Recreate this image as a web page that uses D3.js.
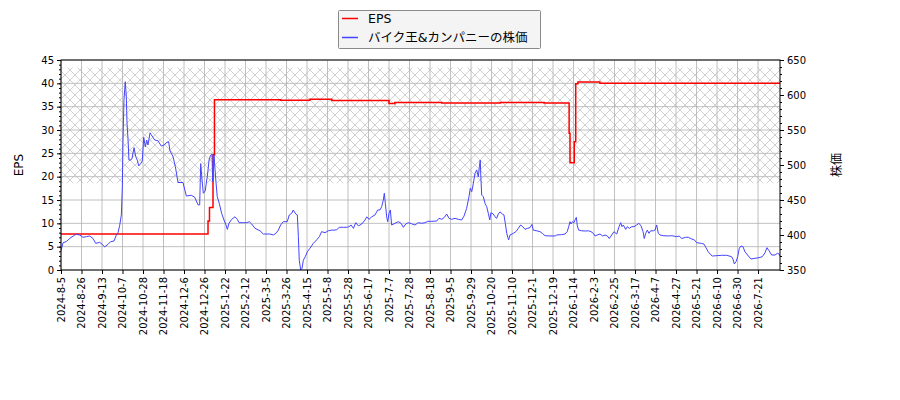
<!DOCTYPE html>
<html>
<head>
<meta charset="utf-8">
<script src="https://cdn.jsdelivr.net/npm/d3@7"></script>
<style>
	body { margin: 0; background: #fff; }
	svg text { font-family: "DejaVu Sans", "Noto Sans CJK JP", sans-serif; fill: #000; }
	.gridline { stroke: #b0b0b0; stroke-width: 0.8; }
	.axis path, .axis line { stroke: #000; }
</style>
</head>
<body>
<svg id="chart" width="900" height="400"></svg>
<script>
// x axis: trading days since 2024-8-5, one label every 14 days
var tickLabels = [
	"2024-8-5", "2024-8-26", "2024-9-13", "2024-10-7", "2024-10-28", "2024-11-18",
	"2024-12-6", "2024-12-26", "2025-1-22", "2025-2-12", "2025-3-5", "2025-3-26",
	"2025-4-15", "2025-5-8", "2025-5-28", "2025-6-17", "2025-7-7", "2025-7-28",
	"2025-8-18", "2025-9-5", "2025-9-29", "2025-10-20", "2025-11-10", "2025-12-1",
	"2025-12-19", "2026-1-14", "2026-2-3", "2026-2-25", "2026-3-17", "2026-4-7",
	"2026-4-27", "2026-5-21", "2026-6-10", "2026-6-30", "2026-7-21"
];
var tickStep = 14;
var dayCount = 491;

var epsTicks = [0, 5, 10, 15, 20, 25, 30, 35, 40, 45];
var priceTicks = [350, 400, 450, 500, 550, 600, 650];

// shaded band, in EPS units
var hatchBand = [18.6, 43.4];

// [day, EPS]
var eps = [
	[0, 7.7], [100.4, 10.5], [101.4, 13.4], [103.8, 24.7], [104.8, 36.5],
	[150, 36.4], [170, 36.6], [185, 36.3], [224, 35.7], [228, 35.9],
	[260, 35.8], [300, 35.9], [330, 35.8], [347, 29.3], [347.6, 23.0],
	[350.5, 27.5], [351.5, 39.9], [353, 40.3], [368, 40.0], [491, 40.0]
];

// [day, price]
var price = [
	[0,377.6],[1.4,389],[3.6,390.5],[5.9,395],[9.4,400],[10.4,401],[12.8,400],[15.0,396.7],
	[17.3,397.6],[19.6,398.6],[21.9,395],[23.7,388],[26.4,389.5],[28.0,387],[29.8,383],
	[32.1,386.7],[33.9,390.5],[36.2,391.4],[37.8,400],[38.9,403],[40.1,414],[41.2,428.6],
	[41.9,469],[42.3,531],[43.0,593],[43.9,619],[44.6,597.6],[45.1,559.5],[45.8,535.7],
	[46.4,507],[47.6,507],[48.5,509.5],[49.9,524.8],[51.0,512],[52.1,507],[53.1,498.6],
	[54.4,502],[55.5,505.7],[56.5,539.5],[57.6,526],[58.5,535.7],[59.4,528.6],[60.8,546],
	[61.7,543],[64.0,535.7],[66.2,534.7],[68.5,527],[70.3,528.6],[71.9,532],[73.5,533.3],
	[74.4,520.5],[76.5,512],[78.1,497.6],[79.9,475],[83.3,475],[85.6,455.7],[89.0,456.7],
	[91.3,454],[93.6,443],[94.7,443],[95.4,502],[96.3,478.6],[97.2,459.6],[98.5,463],
	[99.5,478.6],[99.9,483],[101.1,507],[102.2,514],[103.1,515.7],[103.6,476],[104.5,514],
	[105.2,493],[105.9,474],[106.7,454.7],[108.1,445],[109.7,431],[111.3,421.4],[112.7,414.3],
	[113.6,408],[114.7,416.7],[116.6,422.4],[118.8,426],[120.4,422.4],[121.6,417.6],
	[124.5,417.6],[126.8,417.6],[128.6,419],[130.2,415.7],[132.5,409.5],[135.9,406],
	[138.2,401.4],[142.7,401.4],[145.0,400],[146.8,402.4],[148.4,407],[150.0,414.3],
	[151.8,419],[154.5,419],[155.9,428.6],[157.5,431],[158.6,435.7],[160.3,430],[161.4,428.6],
	[162.1,397.6],[162.7,364],[163.7,350],[164.6,352.4],[165.5,364],[166.8,369],[168.2,376],
	[170.0,381],[172.3,388],[174.6,393],[176.4,397.6],[178.0,404.8],[180.3,403.3],[182.5,406],
	[184.9,407],[187.1,407],[188.3,407.6],[190.1,411],[192.8,411],[195.1,411],[196.2,411.6],
	[197.4,412.9],[198.1,414.3],[199.7,409.5],[201.3,417.6],[203.1,413],[205.4,415.7],
	[207.6,421.4],[208.8,426],[210.3,422.4],[212.2,426],[214.4,428.6],[216.3,435.7],
	[217.8,435.7],[219.0,440.5],[220.1,450],[220.8,459.6],[221.5,445],[222.4,426],[223.1,419],
	[224.0,431],[224.9,435.7],[225.8,414.3],[228.1,416.7],[230.3,419],[232.2,416.7],[233.8,411],
	[235.4,415.7],[237.2,417.6],[239.5,416],[241.7,414.3],[244.0,417.6],[246.3,416.7],
	[248.6,417.6],[250.4,419.5],[253.2,419.5],[256.6,420],[258.1,423.8],[260.0,422.4],
	[261.8,425.2],[263.4,430],[265.0,423.8],[266.8,422.4],[269.1,423.8],[271.3,422.4],
	[273.6,421.4],[275.2,427],[277.0,438],[278.6,454.7],[279.5,466.7],[280.5,461.9],
	[281.6,474],[282.7,488],[283.9,493],[285.0,483],[285.7,497.6],[286.3,507],[286.8,478.6],
	[287.3,457],[288.4,454.7],[289.6,445],[290.7,440.5],[291.8,431],[292.8,421.4],[293.6,431.9],
	[295.2,430],[296.4,426],[297.5,423.8],[298.6,430],[299.8,433],[301.4,430],[302.5,428.6],
	[303.4,416.7],[304.4,402.4],[305.1,396.7],[305.7,393],[306.6,400],[308.9,402.4],
	[310.7,404.8],[312.3,409.5],[313.9,414.3],[315.3,411.9],[316.9,408],[318.4,409.5],
	[320.3,410.5],[321.6,415.2],[322.5,407],[324.9,406],[327.1,404.8],[328.7,402.4],[330.5,399],
	[333.9,398.6],[337.4,398.6],[338.5,400],[341.9,400.5],[344.2,401.4],[345.7,404.8],
	[346.7,411.9],[347.6,419],[348.3,415.7],[349.2,419],[350.3,417.6],[351.0,421.4],
	[351.9,425.2],[352.6,413],[353.5,407],[355.6,406],[357.8,405.7],[360.1,406],[361.9,404.8],
	[363.5,402.4],[364.7,398.6],[366.2,400],[368.1,401.4],[369.9,398.6],[371.5,400],
	[373.1,398.6],[374.4,395],[376.1,400],[377.6,404.8],[379.5,401.4],[381.1,411.9],
	[382.2,417.6],[383.1,411.9],[384.0,414.3],[385.6,408],[386.7,411.9],[388.1,409.5],
	[389.7,411.9],[391.3,411.9],[393.1,414.3],[394.7,416.7],[396.1,413],[397.5,404.8],
	[398.3,395],[399.3,402.4],[400.4,407],[401.5,402.4],[402.7,406],[404.5,406],[405.6,407],
	[406.8,414.3],[407.9,402.4],[409.1,400],[411.3,399],[414.7,398.6],[417.1,399],[420.5,397.6],
	[422.1,398.6],[423.9,395],[426.6,396.7],[428.4,396.7],[430.7,394.3],[432.5,393],[434.1,389],
	[437.5,388],[439.1,387],[440.3,382.4],[442.0,376],[443.9,371.4],[444.8,370],[447.8,370.5],
	[451.2,371],[454.6,371],[458.0,369],[459.1,364.3],[459.8,358.6],[461.0,361.9],[462.1,369],
	[463.2,381],[464.4,384.3],[465.7,383.3],[467.1,376],[469.4,370],[471.2,365.7],[473.9,366.7],
	[476.7,367.6],[478.9,369],[480.8,374.8],[482.1,381.9],[483.5,377.6],[485.3,371.4],
	[487.6,371.4],[489.2,373.8],[490.3,373],[491,370]
];

var legendItems = [
	{ label: "EPS", color: "#ff0000" },
	{ label: "バイク王&カンパニーの株価", color: "#4444ff" }
];

var chart = {
	init : function ()
	{
		this.svg = d3.select("svg#chart");
		this.box = { left: 61, right: 780, top: 60, bottom: 270 };

		this.x = d3.scaleLinear()
		.domain([0, dayCount])
		.range([this.box.left, this.box.right]);

		this.yEps = d3.scaleLinear()
		.domain([0, 45])
		.range([this.box.bottom, this.box.top]);

		this.yPrice = d3.scaleLinear()
		.domain([350, 650])
		.range([this.box.bottom, this.box.top]);

		this.renderHatch();
		this.renderGrid();
		this.renderLines();
		this.renderAxes();
		this.renderLegend();
	},

	renderHatch : function ()
	{
		var defs = this.svg.append("defs");
		var pat = defs.append("pattern")
		.attr("id", "hatch")
		.attr("patternUnits", "userSpaceOnUse")
		.attr("width", 10)
		.attr("height", 10);

		// one X per tile
		pat.append("path")
		.attr("d", "M0,0L10,10M10,0L0,10")
		.attr("stroke", "#bdbdbd")
		.attr("stroke-width", 0.7)
		.attr("fill", "none");

		defs.append("clipPath")
		.attr("id", "plotClip")
		.append("rect")
		.attr("x", this.box.left)
		.attr("y", this.box.top)
		.attr("width", this.box.right - this.box.left)
		.attr("height", this.box.bottom - this.box.top);

		this.svg.append("rect")
		.attr("x", this.box.left)
		.attr("width", this.box.right - this.box.left)
		.attr("y", this.yEps(hatchBand[1]))
		.attr("height", this.yEps(hatchBand[0]) - this.yEps(hatchBand[1]))
		.attr("fill", "url(#hatch)");
	},

	renderGrid : function ()
	{
		var grid = this.svg.append("g").classed("grid", true);
		var self = this;

		grid.selectAll("line.v")
		.data(tickLabels)
		.enter().append("line")
		.attr("class", "gridline v")
		.attr("x1", function (d, i) { return self.x(i*tickStep); })
		.attr("x2", function (d, i) { return self.x(i*tickStep); })
		.attr("y1", this.box.top)
		.attr("y2", this.box.bottom);

		grid.selectAll("line.h")
		.data(epsTicks)
		.enter().append("line")
		.attr("class", "gridline h")
		.attr("x1", this.box.left)
		.attr("x2", this.box.right)
		.attr("y1", function (d) { return self.yEps(d); })
		.attr("y2", function (d) { return self.yEps(d); });
	},

	renderLines : function ()
	{
		var self = this;
		var lines = this.svg.append("g").attr("clip-path", "url(#plotClip)");

		var epsLine = d3.line()
		.x(function (d) { return self.x(d[0]); })
		.y(function (d) { return self.yEps(d[1]); })
		.curve(d3.curveStepAfter);

		var priceLine = d3.line()
		.x(function (d) { return self.x(d[0]); })
		.y(function (d) { return self.yPrice(d[1]); });

		lines.append("path")
		.datum(eps)
		.attr("d", epsLine)
		.attr("fill", "none")
		.attr("stroke", legendItems[0].color)
		.attr("stroke-width", 1.5);

		lines.append("path")
		.datum(price)
		.attr("d", priceLine)
		.attr("fill", "none")
		.attr("stroke", legendItems[1].color)
		.attr("stroke-width", 1);
	},

	renderAxes : function ()
	{
		var b = this.box;

		// frame
		this.svg.append("rect")
		.attr("x", b.left)
		.attr("y", b.top)
		.attr("width", b.right - b.left)
		.attr("height", b.bottom - b.top)
		.attr("fill", "none")
		.attr("stroke", "#000")
		.attr("stroke-width", 1);

		// left, minor then major
		this.svg.append("g")
		.attr("class", "axis")
		.attr("transform", "translate("+b.left+",0)")
		.call(d3.axisLeft(this.yEps).tickValues(d3.range(0, 46, 1)).tickSize(2).tickFormat(""))
		.call(function (g) { g.select(".domain").remove(); });

		this.svg.append("g")
		.attr("class", "axis")
		.attr("transform", "translate("+b.left+",0)")
		.call(d3.axisLeft(this.yEps).tickValues(epsTicks).tickSize(4).tickPadding(3))
		.call(function (g) {
			g.select(".domain").remove();
			g.selectAll("text").attr("font-size", 10).attr("font-family", null);
		});

		// right
		this.svg.append("g")
		.attr("class", "axis")
		.attr("transform", "translate("+b.right+",0)")
		.call(d3.axisRight(this.yPrice).tickValues(d3.range(350, 651, 10)).tickSize(2).tickFormat(""))
		.call(function (g) { g.select(".domain").remove(); });

		this.svg.append("g")
		.attr("class", "axis")
		.attr("transform", "translate("+b.right+",0)")
		.call(d3.axisRight(this.yPrice).tickValues(priceTicks).tickSize(4).tickPadding(3))
		.call(function (g) {
			g.select(".domain").remove();
			g.selectAll("text").attr("font-size", 10).attr("font-family", null);
		});

		// bottom
		var xAxis = d3.axisBottom(this.x)
		.tickValues(d3.range(0, tickLabels.length*tickStep, tickStep))
		.tickFormat(function (d, i) { return tickLabels[i]; })
		.tickSize(4);

		this.svg.append("g")
		.attr("class", "axis")
		.attr("transform", "translate(0,"+b.bottom+")")
		.call(xAxis)
		.call(function (g) {
			g.select(".domain").remove();
			g.selectAll("text")
			.attr("font-size", 10)
			.attr("font-family", null)
			.attr("text-anchor", "end")
			.attr("dy", "0.32em")
			.attr("x", -7)
			.attr("y", 0)
			.attr("transform", "rotate(-90)");
		});

		// axis titles
		this.svg.append("text")
		.text("EPS")
		.attr("font-size", 12)
		.attr("text-anchor", "middle")
		.attr("transform", "translate(23,"+((b.top+b.bottom)/2)+") rotate(-90)");

		this.svg.append("text")
		.text("株価")
		.attr("font-size", 12)
		.attr("text-anchor", "middle")
		.attr("transform", "translate(841,"+((b.top+b.bottom)/2)+") rotate(-90)");
	},

	renderLegend : function ()
	{
		var lg = this.svg.append("g").attr("transform", "translate(338,10)");

		lg.append("rect")
		.attr("x", 0.5)
		.attr("y", 0.5)
		.attr("width", 202)
		.attr("height", 38)
		.attr("rx", 1)
		.attr("fill", "#f4f4f4")
		.attr("stroke", "#8a8a8a");

		var rows = lg.selectAll("g.row")
		.data(legendItems)
		.enter().append("g")
		.attr("class", "row")
		.attr("transform", function (d, i) { return "translate(0,"+(8.5 + i*19)+")"; });

		rows.append("line")
		.attr("x1", 4)
		.attr("x2", 20)
		.attr("stroke", function (d) { return d.color; })
		.attr("stroke-width", 1.5);

		rows.append("text")
		.text(function (d) { return d.label; })
		.attr("x", 30)
		.attr("dy", "0.35em")
		.attr("font-size", 12.5);
	}
};

chart.init();
</script>
</body>
</html>
